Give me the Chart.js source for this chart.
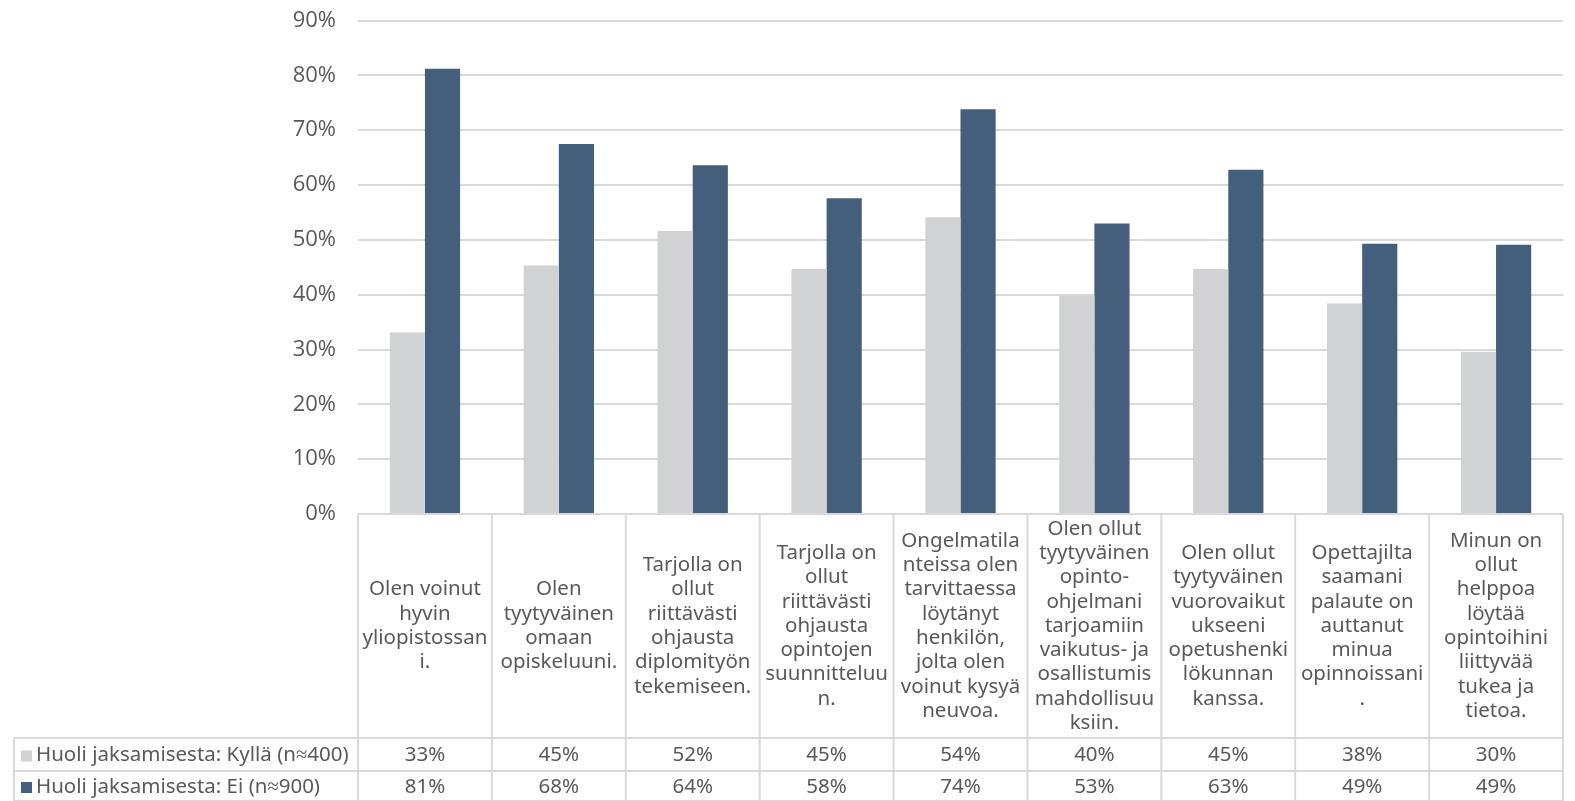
<!DOCTYPE html>
<html><head><meta charset="utf-8">
<script src="https://cdn.jsdelivr.net/npm/chart.js@4"></script>
<style>html,body{margin:0;padding:0;background:#fff}#wrap{width:1575px;height:801px}</style>
</head><body><div id="wrap"><canvas id="c" width="1575" height="801"></canvas></div>
<script>
const categories = [
  ["Olen voinut","hyvin","yliopistossan","i."],
  ["Olen","tyytyväinen","omaan","opiskeluuni."],
  ["Tarjolla on","ollut","riittävästi","ohjausta","diplomityön","tekemiseen."],
  ["Tarjolla on","ollut","riittävästi","ohjausta","opintojen","suunnitteluu","n."],
  ["Ongelmatila","nteissa olen","tarvittaessa","löytänyt","henkilön,","jolta olen","voinut kysyä","neuvoa."],
  ["Olen ollut","tyytyväinen","opinto-","ohjelmani","tarjoamiin","vaikutus- ja","osallistumis","mahdollisuu","ksiin."],
  ["Olen ollut","tyytyväinen","vuorovaikut","ukseeni","opetushenki","lökunnan","kanssa."],
  ["Opettajilta","saamani","palaute on","auttanut","minua","opinnoissani","."],
  ["Minun on","ollut","helppoa","löytää","opintoihini","liittyvää","tukea ja","tietoa."]
];
const seriesNames = ["Huoli jaksamisesta: Kyllä (n≈400)", "Huoli jaksamisesta: Ei (n≈900)"];
const kyllaValues = [33.1, 45.3, 51.6, 44.7, 54.1, 39.8, 44.7, 38.4, 29.6];
const eiValues = [81.2, 67.5, 63.6, 57.6, 73.8, 53.0, 62.8, 49.3, 49.1];
const kyllaLabels = ["33%","45%","52%","45%","54%","40%","45%","38%","30%"];
const eiLabels = ["81%","68%","64%","58%","74%","53%","63%","49%","49%"];
const yTicks = [0,10,20,30,40,50,60,70,80,90];

const colors = ["#d0d2d4", "#445f7c"];
const textColor = "#595959";
const gridColor = "#d9d9d9";
const tableFont = "20.5px 'Noto Sans'";

const tablePlugin = {
  id: 'dataTable',
  afterDraw(chart) {
    const ctx = chart.ctx;
    const xs = chart.scales.x;
    const area = chart.chartArea;
    const n = categories.length;
    const w = (area.right - area.left) / n;
    const top = area.bottom;
    const row1 = 738, row2 = 771, bottom = 801;
    const leftX = 14;
    ctx.save();
    ctx.strokeStyle = gridColor;
    ctx.lineWidth = 2;
    ctx.beginPath();
    ctx.moveTo(area.left, top); ctx.lineTo(area.right, top);
    ctx.moveTo(leftX, row1); ctx.lineTo(area.right, row1);
    ctx.moveTo(leftX, row2); ctx.lineTo(area.right, row2);
    ctx.moveTo(leftX, bottom); ctx.lineTo(area.right, bottom);
    for (let i = 0; i <= n; i++) {
      const x = area.left + i * w;
      ctx.moveTo(x, top); ctx.lineTo(x, bottom);
    }
    ctx.moveTo(leftX, row1); ctx.lineTo(leftX, bottom);
    ctx.stroke();

    ctx.fillStyle = textColor;
    ctx.font = tableFont;
    ctx.textAlign = 'center';
    ctx.textBaseline = 'middle';
    const lh = 24.3;
    const midY = (top + row1) / 2;
    categories.forEach((lines, i) => {
      const cx = xs.getPixelForValue(i);
      const y0 = midY - (lines.length - 1) * lh / 2;
      lines.forEach((ln, j) => ctx.fillText(ln, cx, y0 + j * lh));
    });
    const rows = [kyllaLabels, eiLabels];
    const rowMid = [(row1 + row2) / 2 + 1, (row2 + bottom) / 2 + 1];
    rows.forEach((labels, r) => {
      labels.forEach((t, i) => ctx.fillText(t, xs.getPixelForValue(i), rowMid[r]));
    });
    ctx.textAlign = 'left';
    seriesNames.forEach((name, r) => {
      ctx.fillStyle = colors[r];
      ctx.fillRect(21, rowMid[r] - 5, 11, 11);
      ctx.fillStyle = textColor;
      ctx.fillText(name, 36, rowMid[r]);
    });
    ctx.restore();
  }
};

new Chart(document.getElementById('c'), {
  type: 'bar',
  data: {
    labels: categories.map(l => l.join(' ')),
    datasets: [
      { label: seriesNames[0], data: kyllaValues, backgroundColor: colors[0], categoryPercentage: 0.525, barPercentage: 1 },
      { label: seriesNames[1], data: eiValues, backgroundColor: colors[1], categoryPercentage: 0.525, barPercentage: 1 }
    ]
  },
  options: {
    responsive: false,
    animation: false,
    devicePixelRatio: 1,
    layout: { padding: { left: 0, right: 12, top: 20.5, bottom: 287 } },
    plugins: { legend: { display: false }, tooltip: { enabled: false } },
    scales: {
      x: { display: false },
      y: {
        min: 0, max: 90,
        afterBuildTicks(scale) { scale.ticks = yTicks.map(v => ({ value: v })); },
        afterFit(scale) { scale.width = 358; scale.paddingTop = 0; scale.paddingBottom = 0; },
        border: { display: false },
        grid: { color: gridColor, lineWidth: 2, drawTicks: false },
        ticks: { color: textColor, font: { family: "'Open Sans'", size: 22 }, padding: 22, callback: v => v + '%' }
      }
    }
  },
  plugins: [tablePlugin]
});
</script>
</body></html>
